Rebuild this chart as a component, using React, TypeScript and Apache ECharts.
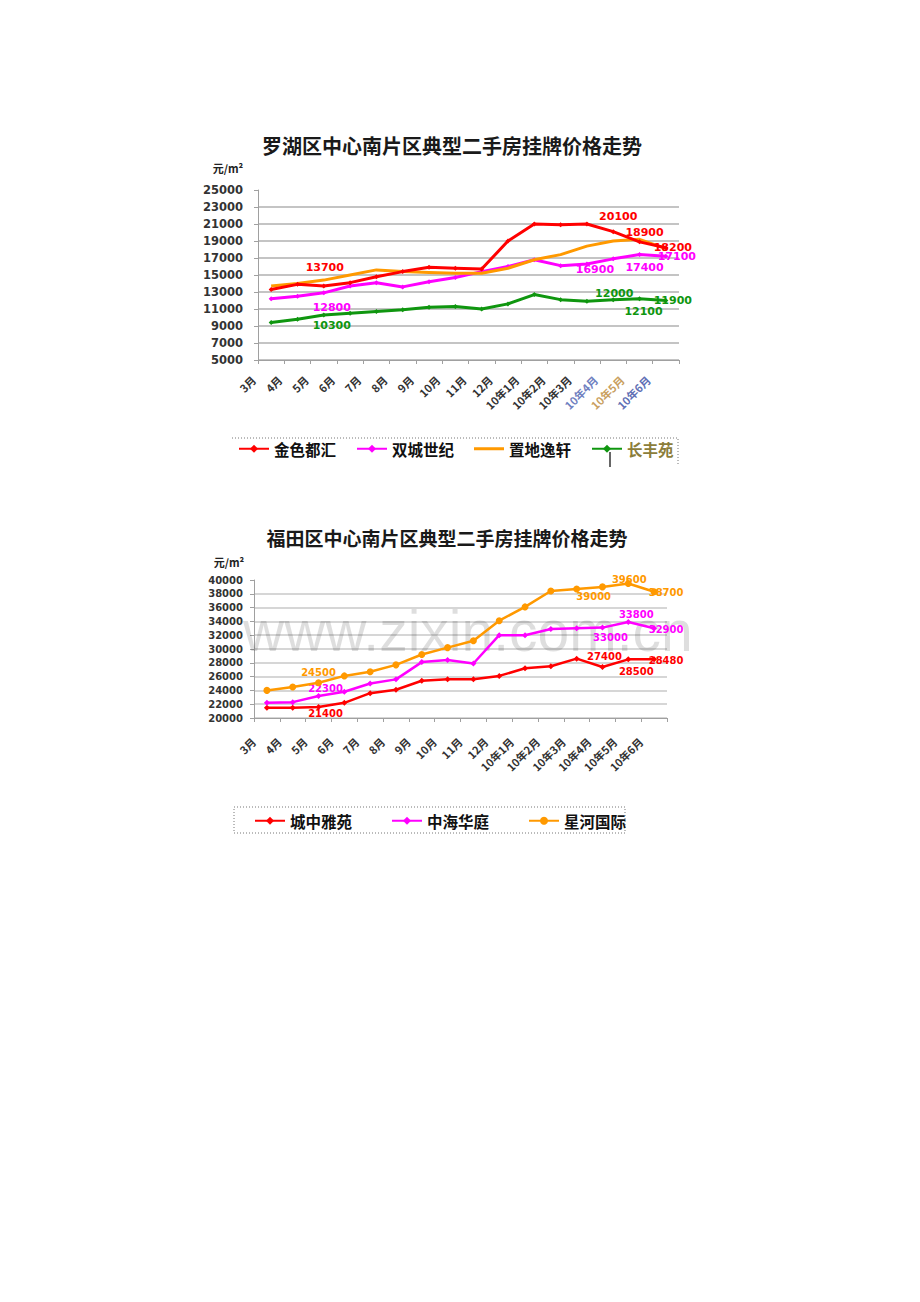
import React, { useEffect, useRef } from 'react';
import * as echarts from 'echarts';

// ---------- data ----------
const months = ['3月', '4月', '5月', '6月', '7月', '8月', '9月', '10月', '11月', '12月', '10年1月', '10年2月', '10年3月', '10年4月', '10年5月', '10年6月'];

const luohuTitle = '罗湖区中心南片区典型二手房挂牌价格走势';
const futianTitle = '福田区中心南片区典型二手房挂牌价格走势';
const unitText = '元/m²';
const watermarkText = 'www.zixin.com.cn';

const luohuNames = ['金色都汇', '双城世纪', '置地逸轩', '长丰苑'];
const jinseDuhui = [13300, 13900, 13700, 14100, 14800, 15400, 15900, 15800, 15700, 19000, 21000, 20900, 21000, 20100, 18900, 18200];
const shuangchengShiji = [12200, 12500, 12900, 13700, 14100, 13600, 14200, 14700, 15400, 16000, 16800, 16100, 16300, 16900, 17400, 17200];
const zhidiYixuan = [13700, 14000, 14400, 15000, 15600, 15400, 15300, 15200, 15200, 15800, 16800, 17400, 18400, 19000, 19200, 18100];
const changfengYuan = [9400, 9800, 10300, 10500, 10700, 10900, 11200, 11300, 11000, 11600, 12700, 12100, 11900, 12100, 12200, 12000];

const jinseDuhuiLabels = ['', '', '13700', '', '', '', '', '', '', '', '', '', '', '20100', '18900', '18200'];
const shuangchengShijiLabels = ['', '', '12800', '', '', '', '', '', '', '', '', '', '16900', '', '17400', '17100'];
const zhidiYixuanLabels = ['', '', '14500', '', '', '', '', '', '', '', '', '', '19000', '', '19200', ''];
const changfengYuanLabels = ['', '', '10300', '', '', '', '', '', '', '', '', '', '', '12000', '12100', '11900'];

const futianNames = ['城中雅苑', '中海华庭', '星河国际'];
const chengzhongYayuan = [21500, 21500, 21600, 22200, 23600, 24100, 25400, 25600, 25600, 26100, 27200, 27500, 28600, 27400, 28500, 28500];
const zhonghaiHuating = [22200, 22300, 23200, 23800, 25000, 25600, 28100, 28400, 27900, 32000, 32000, 32900, 33000, 33100, 33900, 33000];
const xingheGuoji = [24000, 24500, 25100, 26100, 26700, 27700, 29200, 30200, 31200, 34100, 36100, 38400, 38700, 39000, 39500, 38300];

const chengzhongYayuanLabels = ['', '', '21400', '', '', '', '', '', '', '', '', '', '', '27400', '28500', '28480'];
const zhonghaiHuatingLabels = ['', '', '22300', '', '', '', '', '', '', '', '', '', '', '33000', '33800', '32900'];
const xingheGuojiLabels = ['', '', '24500', '', '', '', '', '', '', '', '', '', '39000', '', '39600', '38700'];

// ---------- styles ----------
const CJK = '"Noto Sans CJK SC", "Noto Sans", sans-serif';
const NUM = '"DejaVu Sans", sans-serif';
const PLAIN_LINE_ICON = 'path://M0,3.5 H30 V6.5 H0 Z M0,0 H0.01 V10 H0 Z';

const labelOffsets: Record<string, Record<number, number[]>> = {
  '金色都汇': { 2: [1, -19], 13: [5, -15], 14: [5, -9], 15: [7, 0] },
  '双城世纪': { 2: [8, 15], 12: [8, 6], 14: [5, 13], 15: [11, 0] },
  '置地逸轩': { 2: [0, -6], 12: [0, -9], 14: [4, 12] },
  '长丰苑': { 2: [8, 11], 13: [1, -6], 14: [4, 13], 15: [7, 0] },
  '城中雅苑': { 2: [7, 7], 13: [2, -10], 14: [8, 12], 15: [12, 1] },
  '中海华庭': { 2: [7, -7], 13: [8, 10], 14: [8, -8], 15: [12, 1] },
  '星河国际': { 2: [0, -10], 12: [17, 8], 14: [1, -4], 15: [12, 1] },
};

function makeSeries(name: string, values: number[], labels: string[], color: string, idx: number, opts: any) {
  const offs = labelOffsets[name] || {};
  const data = values.map((v, i) =>
    labels[i]
      ? {
          value: v,
          label: {
            show: true,
            formatter: labels[i],
            position: 'inside',
            offset: offs[i] || [0, 0],
            color,
            fontFamily: NUM,
            fontWeight: 'bold',
            fontSize: opts.labelSize,
            textBorderWidth: 0,
          },
        }
      : v
  );
  return {
    type: 'line',
    name,
    xAxisIndex: idx,
    yAxisIndex: idx,
    data,
    color,
    symbol: opts.symbol,
    symbolSize: opts.symbolSize,
    showSymbol: opts.symbol !== 'none',
    showAllSymbol: true,
    lineStyle: { width: opts.width, color },
    itemStyle: { color },
    emphasis: { disabled: true },
    z: opts.z,
  };
}

function xAxis(gridIndex: number, margin: number, pad: number, colorFn?: (v: string, i: number) => string) {
  return {
    type: 'category',
    gridIndex,
    data: months,
    boundaryGap: true,
    axisLine: { show: true, lineStyle: { color: '#a0a0a0', width: 1 } },
    axisTick: { show: true, length: 4, interval: 0, lineStyle: { color: '#a0a0a0' } },
    axisLabel: {
      interval: 0,
      rotate: 45,
      margin,
      padding: [0, pad, 0, 0],
      fontSize: 11,
      fontFamily: CJK,
      fontWeight: 'bold',
      color: colorFn || '#333',
    },
    splitLine: { show: false },
  };
}

function yAxis(gridIndex: number, min: number, max: number, margin: number, fontSize: number, gridColor: string, gridWidth: number) {
  return {
    type: 'value',
    gridIndex,
    min,
    max,
    interval: 2000,
    axisLine: { show: true, lineStyle: { color: '#a0a0a0' } },
    axisTick: { show: true, length: 4, lineStyle: { color: '#a0a0a0' } },
    axisLabel: {
      margin,
      formatter: (v: number) => String(v),
      fontSize,
      fontWeight: 'bold',
      fontFamily: NUM,
      color: '#333',
    },
    splitLine: { show: true, showMaxLine: false, lineStyle: { color: gridColor, width: gridWidth } },
  };
}

const topLabelColors: Record<number, string> = { 13: '#6f7fbf', 14: '#c9a060', 15: '#5f6fb5' };

const option: any = {
  animation: false,
  backgroundColor: '#ffffff',
  grid: [
    { left: 258, top: 190, width: 421, height: 170, containLabel: false },
    { left: 254, top: 580, width: 413, height: 138, containLabel: false },
  ],
  xAxis: [
    xAxis(0, 0, 25, (v: string, i: number) => topLabelColors[i] || '#333'),
    xAxis(1, 8, 19),
  ],
  yAxis: [
    yAxis(0, 5000, 25000, 15, 11.5, '#c4c4c4', 2),
    yAxis(1, 20000, 40000, 11, 10, '#c8c8c8', 1.5),
  ],
  legend: [
    {
      data: luohuNames.map((n) =>
        n === '长丰苑'
          ? { name: n, textStyle: { color: '#8b7d3a' } }
          : n === '置地逸轩'
          ? { name: n, icon: PLAIN_LINE_ICON }
          : n
      ),
      left: 238,
      top: 441,
      padding: 0,
      itemWidth: 30,
      itemHeight: 10,
      itemGap: 20,
      textStyle: { fontSize: 15.5, fontWeight: 'bold', color: '#111', fontFamily: CJK },
      selectedMode: false,
    },
    {
      data: futianNames,
      left: 254,
      top: 813,
      padding: 0,
      itemWidth: 30,
      itemHeight: 10,
      itemGap: 39,
      textStyle: { fontSize: 15.5, fontWeight: 'bold', color: '#111', fontFamily: CJK },
      selectedMode: false,
    },
  ],
  graphic: [
    {
      type: 'text', x: 452, y: 145, z: 10,
      style: { text: luohuTitle, align: 'center', verticalAlign: 'middle', fontSize: 20, fontWeight: 'bold', fontFamily: CJK, fill: '#1a1a1a' },
    },
    {
      type: 'text', x: 447, y: 537, z: 10,
      style: { text: futianTitle, align: 'center', verticalAlign: 'middle', fontSize: 19, fontWeight: 'bold', fontFamily: CJK, fill: '#1a1a1a' },
    },
    {
      type: 'text', x: 228, y: 168, z: 10,
      style: { text: unitText, align: 'center', verticalAlign: 'middle', fontSize: 11, fontWeight: 'bold', fontFamily: CJK, fill: '#222' },
    },
    {
      type: 'text', x: 229, y: 562, z: 10,
      style: { text: unitText, align: 'center', verticalAlign: 'middle', fontSize: 11, fontWeight: 'bold', fontFamily: CJK, fill: '#222' },
    },
    {
      type: 'text', x: 243, y: 631, z: 1, silent: true,
      style: { text: watermarkText, align: 'left', verticalAlign: 'middle', fontSize: 57, lineHeight: 40, fontFamily: '"Liberation Sans", Arial, sans-serif', fill: 'rgba(0,0,0,0.13)' },
    },
    {
      type: 'polyline', z: 1, silent: true,
      shape: { points: [[232, 438], [678, 438], [678, 466]] },
      style: { stroke: '#777', lineWidth: 1, lineDash: [1, 2], fill: null },
    },
    {
      type: 'rect', z: 1, silent: true,
      shape: { x: 234, y: 807, width: 391, height: 26 },
      style: { stroke: '#777', lineWidth: 1, lineDash: [1, 2], fill: 'none' },
    },
    {
      type: 'line', z: 10, silent: true,
      shape: { x1: 610, y1: 452, x2: 610, y2: 467 },
      style: { stroke: '#333', lineWidth: 1.5 },
    },
  ],
  series: [
    makeSeries('长丰苑', changfengYuan, changfengYuanLabels, '#0f960f', 0, { symbol: 'diamond', symbolSize: 5, width: 3, labelSize: 11, z: 2 }),
    makeSeries('双城世纪', shuangchengShiji, shuangchengShijiLabels, '#ff00ff', 0, { symbol: 'diamond', symbolSize: 5, width: 3, labelSize: 11, z: 3 }),
    makeSeries('置地逸轩', zhidiYixuan, zhidiYixuanLabels, '#ff9900', 0, { symbol: 'none', symbolSize: 0, width: 3, labelSize: 11, z: 4 }),
    makeSeries('金色都汇', jinseDuhui, jinseDuhuiLabels, '#ff0000', 0, { symbol: 'diamond', symbolSize: 5, width: 3, labelSize: 11, z: 5 }),
    makeSeries('城中雅苑', chengzhongYayuan, chengzhongYayuanLabels, '#ff0000', 1, { symbol: 'diamond', symbolSize: 6, width: 2.5, labelSize: 10, z: 3 }),
    makeSeries('中海华庭', zhonghaiHuating, zhonghaiHuatingLabels, '#ff00ff', 1, { symbol: 'diamond', symbolSize: 6, width: 2.5, labelSize: 10, z: 4 }),
    makeSeries('星河国际', xingheGuoji, xingheGuojiLabels, '#ff9900', 1, { symbol: 'circle', symbolSize: 7, width: 2.5, labelSize: 10, z: 5 }),
  ],
};

export default function App() {
  const ref = useRef<HTMLDivElement>(null);
  useEffect(() => {
    if (!ref.current) return;
    const chart = echarts.init(ref.current, null, { renderer: 'svg' });
    chart.setOption(option);
    return () => chart.dispose();
  }, []);
  return <div ref={ref} style={{ position: 'absolute', left: 0, top: 0, width: 920, height: 1302, background: '#fff' }} />;
}
